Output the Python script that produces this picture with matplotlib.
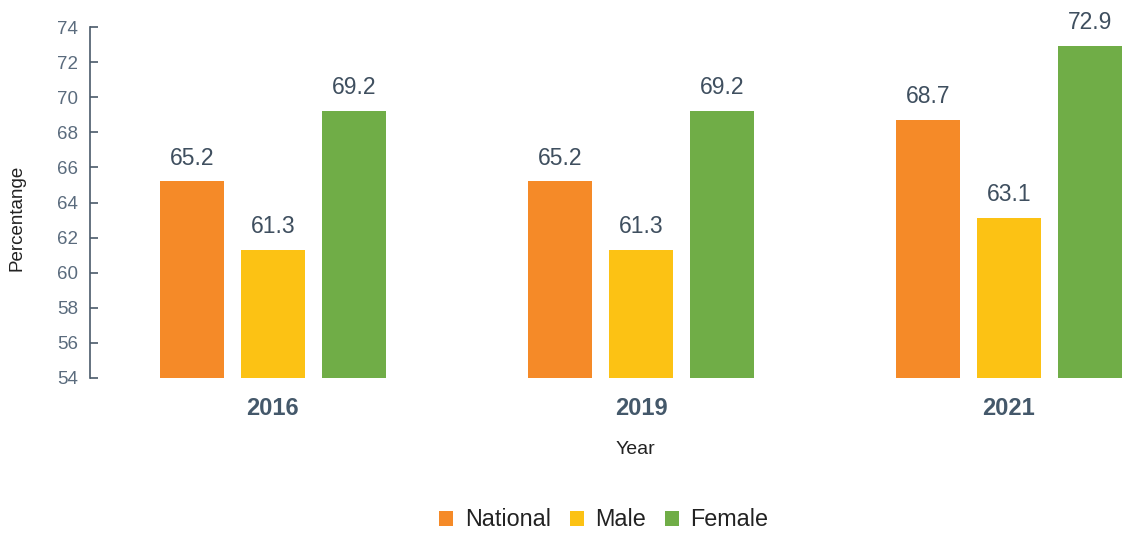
import matplotlib
matplotlib.use("Agg")
import matplotlib.pyplot as plt
import numpy as np

plt.rcParams['font.family'] = ['Liberation Sans', 'DejaVu Sans']

years = ["2016", "2019", "2021"]
series_names = ["National", "Male", "Female"]
national = [65.2, 65.2, 68.7]
male = [61.3, 61.3, 63.1]
female = [69.2, 69.2, 72.9]
y_ticks = [54, 56, 58, 60, 62, 64, 66, 68, 70, 72, 74]

colors = ["#F58A28", "#FCC214", "#70AD47"]
value_color = "#3F4F5F"
tick_color = "#5A6B7D"

W, H = 1126, 534
fig = plt.figure(figsize=(W / 100, H / 100), dpi=100)
ax = fig.add_axes([90 / W, 1 - 378 / H, 1 - 90 / W, (378 - 27) / H])

x = np.arange(len(years))
width = 0.174
offsets = [-0.22, 0.0, 0.22]
for vals, off, col, name in zip([national, male, female], offsets, colors, series_names):
    bars = ax.bar(x + off, np.array(vals) - 54, width, bottom=54, color=col, label=name)
    for b, v in zip(bars, vals):
        ax.annotate(f"{v:.1f}", (b.get_x() + b.get_width() / 2, v),
                    xytext=(0, 8.5), textcoords="offset points",
                    ha="center", va="bottom", fontsize=16.5, color=value_color)

ax.set_ylim(54, 74)
ax.set_xlim(-0.497, 2.318)
ax.set_yticks(y_ticks)
ax.tick_params(axis="y", direction="in", length=6, width=1.2, color="#4A5A6A",
               labelsize=13.5, labelcolor=tick_color, pad=8.5)
ax.set_xticks(x)
ax.set_xticklabels(years, fontsize=17, fontweight="bold", color="#44586A")
ax.tick_params(axis="x", length=0, pad=14)

for s in ["top", "right", "bottom"]:
    ax.spines[s].set_visible(False)
ax.spines["left"].set_color("#4A5A6A")
ax.spines["left"].set_linewidth(1.2)

# axis titles placed in figure pixel space
fig.text(17 / W, 1 - 218 / H, "Percentange", rotation=90, ha="center", va="center",
         fontsize=13.5, color="#222222")
fig.text(635 / W, 1 - 449 / H, "Year", ha="center", va="center",
         fontsize=14, color="#222222")

leg = fig.legend(*ax.get_legend_handles_labels(), loc="center",
                 bbox_to_anchor=(604 / W, 1 - 520 / H), ncol=3, frameon=False,
                 fontsize=16.8, handlelength=0.6, handleheight=0.6,
                 handletextpad=0.5, columnspacing=0.8, borderpad=0)
for t in leg.get_texts():
    t.set_color("#222222")

fig.savefig("out.png", dpi=100)
